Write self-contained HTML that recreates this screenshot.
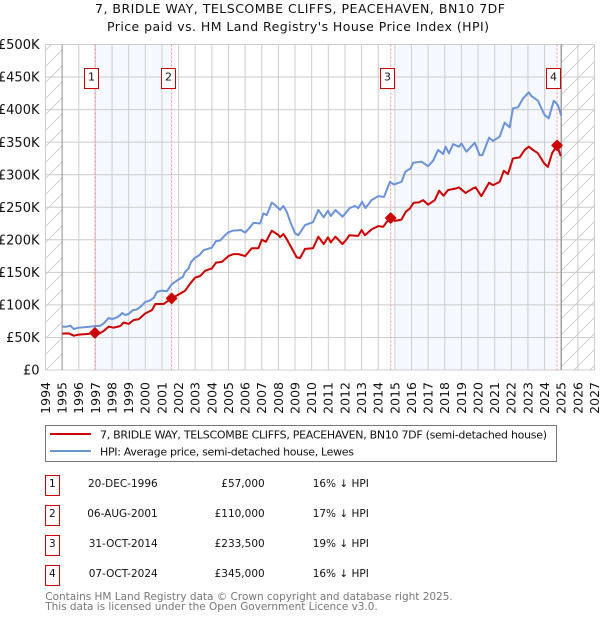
<!DOCTYPE html>
<html lang="en">
<head>
<meta charset="utf-8">
<title>7, BRIDLE WAY, TELSCOMBE CLIFFS, PEACEHAVEN, BN10 7DF</title>
<style>
html,body{margin:0;padding:0;background:#fff;}
body{width:600px;height:620px;overflow:hidden;}
svg{display:block;font-family:"DejaVu Sans","Liberation Sans",sans-serif;}
</style>
</head>
<body>
<svg id="chart" xmlns="http://www.w3.org/2000/svg" width="600" height="620" viewBox="0 0 600 620">
  <defs>
    <pattern id="hatch" patternUnits="userSpaceOnUse" width="16" height="16">
      <path d="M-2 18 L18 -2 M-2 2 L2 -2 M14 18 L18 14" stroke="#cccccc" stroke-width="0.9" fill="none"/>
    </pattern>
  </defs>
  <text x="300" y="13" text-anchor="middle" font-size="12.5" fill="#111" textLength="410" lengthAdjust="spacing">7, BRIDLE WAY, TELSCOMBE CLIFFS, PEACEHAVEN, BN10 7DF</text>
  <text x="298" y="31" text-anchor="middle" font-size="12.5" fill="#111" textLength="382" lengthAdjust="spacing">Price paid vs. HM Land Registry's House Price Index (HPI)</text>
  <g id="bands"></g>
  <g id="grid"></g>
  <g id="series"></g>
  <g id="labels"></g>

  <g>
    <rect x="45.5" y="425.5" width="511" height="36" fill="#fff" stroke="#777" stroke-width="1"/>
    <line x1="50" x2="91" y1="434" y2="434" stroke="#cc0000" stroke-width="2"/>
    <line x1="50" x2="91" y1="451" y2="451" stroke="#6b93d6" stroke-width="2"/>
    <text x="100" y="438.5" font-size="11" fill="#111" textLength="447" lengthAdjust="spacing">7, BRIDLE WAY, TELSCOMBE CLIFFS, PEACEHAVEN, BN10 7DF (semi-detached house)</text>
    <text x="100" y="455.5" font-size="11" fill="#111" textLength="254" lengthAdjust="spacing">HPI: Average price, semi-detached house, Lewes</text>
  </g>

  <g font-size="10.5" fill="#111">
    <g>
      <rect x="45.5" y="475.5" width="14" height="20" fill="#fff" stroke="#cc0000"/>
      <text x="52.3" y="487" text-anchor="middle">1</text>
      <text x="157.7" y="487" text-anchor="end">20-DEC-1996</text>
      <text x="264.7" y="487" text-anchor="end">£57,000</text>
      <text x="312.7" y="487">16% ↓ HPI</text>
    </g>
    <g>
      <rect x="45.5" y="505.5" width="14" height="20" fill="#fff" stroke="#cc0000"/>
      <text x="52.3" y="517" text-anchor="middle">2</text>
      <text x="157.7" y="517" text-anchor="end">06-AUG-2001</text>
      <text x="264.7" y="517" text-anchor="end">£110,000</text>
      <text x="312.7" y="517">17% ↓ HPI</text>
    </g>
    <g>
      <rect x="45.5" y="535.5" width="14" height="20" fill="#fff" stroke="#cc0000"/>
      <text x="52.3" y="547" text-anchor="middle">3</text>
      <text x="157.7" y="547" text-anchor="end">31-OCT-2014</text>
      <text x="264.7" y="547" text-anchor="end">£233,500</text>
      <text x="312.7" y="547">19% ↓ HPI</text>
    </g>
    <g>
      <rect x="45.5" y="565.5" width="14" height="20" fill="#fff" stroke="#cc0000"/>
      <text x="52.3" y="577" text-anchor="middle">4</text>
      <text x="157.7" y="577" text-anchor="end">07-OCT-2024</text>
      <text x="264.7" y="577" text-anchor="end">£345,000</text>
      <text x="312.7" y="577">16% ↓ HPI</text>
    </g>
  </g>
  <text x="45.3" y="600" font-size="10.5" fill="#777" textLength="407.4" lengthAdjust="spacing">Contains HM Land Registry data © Crown copyright and database right 2025.</text>
  <text x="45.3" y="610" font-size="10.5" fill="#777" textLength="332.4" lengthAdjust="spacing">This data is licensed under the Open Government Licence v3.0.</text>
</svg>
<script>
var yearTicks = [1994,1995,1996,1997,1998,1999,2000,2001,2002,2003,2004,2005,2006,2007,2008,2009,2010,2011,2012,2013,2014,2015,2016,2017,2018,2019,2020,2021,2022,2023,2024,2025,2026,2027];
var valueTicks = [0,50,100,150,200,250,300,350,400,450,500];
var valueTickLabels = ['£0','£50K','£100K','£150K','£200K','£250K','£300K','£350K','£400K','£450K','£500K'];
var dataStart = 1995;
var dataEnd = 2025;
var saleDates = [1996.97,2001.58,2014.75,2024.75];
var salePrices = [57,110,233.5,345];
var saleNumbers = ['1','2','3','4'];
var bandStarts = [1997,2015];
var bandEnds = [2001.58,2024.75];

var hpiDates = [1995,1995.25,1995.5,1995.7,1996,1996.5,1997,1997.25,1997.5,1997.8,1998,1998.3,1998.5,1998.6,1998.8,1999,1999.25,1999.5,1999.75,2000,2000.25,2000.5,2000.7,2001,2001.3,2001.6,2002,2002.25,2002.4,2002.6,2002.75,2003,2003.25,2003.5,2004,2004.25,2004.5,2004.75,2005,2005.25,2005.5,2005.75,2006,2006.25,2006.5,2006.9,2007.1,2007.3,2007.6,2007.8,2008.1,2008.3,2008.5,2008.75,2009,2009.2,2009.6,2010.08,2010.4,2010.72,2010.98,2011.15,2011.43,2011.85,2012.1,2012.3,2012.6,2012.8,2013.03,2013.23,2013.6,2014,2014.35,2014.7,2014.95,2015.4,2015.63,2015.95,2016.1,2016.6,2017,2017.3,2017.6,2017.9,2018.05,2018.25,2018.5,2018.85,2019,2019.3,2019.8,2020.1,2020.26,2020.66,2020.9,2021.3,2021.6,2021.9,2022.1,2022.4,2022.7,2023.05,2023.2,2023.6,2024,2024.25,2024.55,2024.8,2025];
var hpiValues = [66.6,66.5,68,63,65,66,67.5,67.5,71.5,80,78,81,84.5,87.5,84.5,86,92,93,98,104.5,106.5,110.5,120,122,121,132,139,143,151,156,166,172.5,176.5,184,188,198,199,206,211.5,214,214.5,215,211,218,226,225,240.5,238,257,253.5,246,252,243,225,210,207,222.7,227,245.8,234.5,244.7,236.5,245.8,235.5,243,249,252,248.7,258.5,248.7,261,267,266,289,285,289,304.6,309.7,318.4,320,313,321.5,338,331.8,343,332.8,347,343,348,335.4,349,330,330,356.8,352,358.4,380,372.7,402,403.5,417,426.5,421,413.6,391.7,386.6,413.6,407,390.6];

var paidDates = [1995,1995.4,1995.7,1996,1996.5,1996.97,1997.25,1997.5,1997.8,1998.1,1998.5,1998.7,1999,1999.3,1999.6,2000,2000.4,2000.6,2001.1,2001.58,2002,2002.4,2002.7,2003,2003.3,2003.6,2004,2004.25,2004.6,2005,2005.3,2005.6,2006,2006.4,2006.8,2007,2007.25,2007.6,2008,2008.1,2008.3,2008.5,2008.8,2009.1,2009.3,2009.6,2010.08,2010.4,2010.72,2010.98,2011.15,2011.43,2011.85,2012.1,2012.27,2012.8,2013,2013.2,2013.6,2014,2014.3,2014.5,2014.75,2015,2015.4,2015.65,2015.9,2016.13,2016.45,2016.7,2017,2017.4,2017.66,2017.93,2018.2,2018.7,2018.85,2019.25,2019.7,2019.85,2020.2,2020.66,2020.9,2021.3,2021.55,2021.8,2022.1,2022.5,2022.8,2023.05,2023.3,2023.6,2023.97,2024.2,2024.45,2024.75,2024.97];
var paidValues = [55.8,56.3,52.7,54.3,55.3,57,56.3,60,66.6,65,67.6,73,70.7,76.8,78,87,92,101.4,101.4,110,116,122,133,142,144.4,152.6,156,165,166,175,178,178,175,187,187,200,197,214,207.4,204,209,201,187,173,172,186,187,204.8,193.5,203.8,196,204.8,193.5,200.7,207,206,215,207,216,221,220,227,233.5,229,231,243,248,257,257.5,261,254,261,275.4,267.8,276.5,279,280.6,272,279,280.6,267,287.7,284,289,306,301,325,326.6,338,343,338,333,317.5,312,333,345,328.7];

var NS = 'http://www.w3.org/2000/svg';
var plotLeft = 45.5, plotRight = 594.5, plotTop = 44.5, plotBottom = 370;
function xScale(year){ return plotLeft + (year - yearTicks[0]) * (plotRight - plotLeft) / (yearTicks[yearTicks.length-1] - yearTicks[0]); }
function yScale(value){ return plotBottom - value * (plotBottom - plotTop) / valueTicks[valueTicks.length-1]; }
function make(tag, attrs, parent){
  var el = document.createElementNS(NS, tag);
  for (var k in attrs) el.setAttribute(k, attrs[k]);
  parent.appendChild(el);
  return el;
}
var bands = document.getElementById('bands');
var grid = document.getElementById('grid');
var series = document.getElementById('series');
var labels = document.getElementById('labels');
var plotHeight = plotBottom - plotTop;

var hatchLeft = make('rect', {x: plotLeft, y: plotTop, width: xScale(dataStart) - plotLeft, height: plotHeight, fill: 'url(#hatch)'}, bands);


var hatchRight = make('rect', {x: xScale(dataEnd), y: plotTop, width: plotRight - xScale(dataEnd), height: plotHeight, fill: 'url(#hatch)'}, bands);


bandStarts.forEach(function(start, i){
  var band = make('rect', {x: xScale(start), y: plotTop, width: xScale(bandEnds[i]) - xScale(start), height: plotHeight, fill: '#f5f8fe'}, bands);
  
  
});

yearTicks.forEach(function(yr){
  var gx = xScale(yr);
  var line = make('line', {x1: gx, x2: gx, y1: plotTop, y2: plotBottom, stroke: '#cccccc', 'stroke-width': 1}, grid);
  
  
  var t = make('text', {transform: 'translate(' + (gx + 4.4) + ',382) rotate(-90)', 'text-anchor': 'end', 'font-size': 12.5, fill: '#111'}, labels);
  
  
  t.textContent = String(yr);
});
valueTicks.forEach(function(v, i){
  var gy = yScale(v);
  var line = make('line', {x1: plotLeft, x2: plotRight, y1: gy, y2: gy, stroke: '#cccccc', 'stroke-width': 1}, grid);
  
  
  var t = make('text', {x: 39.5, y: gy + 4.6, 'text-anchor': 'end', 'font-size': 13, fill: '#111'}, labels);
  
  
  t.textContent = valueTickLabels[i];
});

var startLine = make('line', {x1: xScale(dataStart), x2: xScale(dataStart), y1: plotTop, y2: plotBottom, stroke: '#999999', 'stroke-width': 1}, grid);


var endLine = make('line', {x1: xScale(dataEnd), x2: xScale(dataEnd), y1: plotTop, y2: plotBottom, stroke: '#999999', 'stroke-width': 1.4}, grid);



function pathFrom(dates, values){
  return dates.map(function(d, i){ return (i ? 'L' : 'M') + xScale(d).toFixed(2) + ' ' + yScale(values[i]).toFixed(2); }).join(' ');
}
saleDates.forEach(function(d){
  var vline = make('line', {x1: xScale(d), x2: xScale(d), y1: plotTop, y2: plotBottom, stroke: '#ff8a98', 'stroke-width': 1, 'stroke-dasharray': '2 2'}, series);
  
  
});
var hpiPath = make('path', {d: pathFrom(hpiDates, hpiValues), fill: 'none', stroke: '#6b93d6', 'stroke-width': 2, 'stroke-linejoin': 'round'}, series);


var paidPath = make('path', {d: pathFrom(paidDates, paidValues), fill: 'none', stroke: '#cc0000', 'stroke-width': 2, 'stroke-linejoin': 'round'}, series);


saleDates.forEach(function(d, i){
  var cx = xScale(d), cy = yScale(salePrices[i]), r = 5;
  var dot = make('path', {d: 'M' + (cx - r) + ' ' + cy + ' L' + cx + ' ' + (cy - r) + ' L' + (cx + r) + ' ' + cy + ' L' + cx + ' ' + (cy + r) + ' Z', fill: '#cc0000', stroke: '#cc0000', 'stroke-width': 1.5, 'stroke-linejoin': 'round'}, series);
  
  
  var box = make('rect', {x: Math.round(cx - 10.6) + 0.5, y: 68.5, width: 14, height: 20, fill: '#fff', stroke: '#cc0000', 'stroke-width': 1}, series);
  
  
  var label = make('text', {x: Math.round(cx - 10.6) + 7.5, y: 80.5, 'text-anchor': 'middle', 'font-size': 11, fill: '#111'}, series);
  
  
  label.textContent = saleNumbers[i];
});
</script>
</body>
</html>
